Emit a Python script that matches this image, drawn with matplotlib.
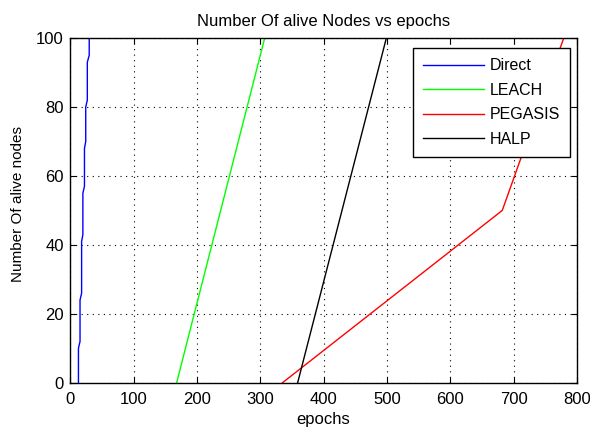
import matplotlib
matplotlib.use("Agg")
import matplotlib.pyplot as plt

# alive nodes vs epochs
direct_x = [13, 13, 15.5, 15.5, 18, 18, 20, 20, 22.5, 22.5, 24.5, 24.5, 27, 27, 30, 30]
direct_y = [0, 10, 12, 24, 26, 41, 43, 55, 57, 68, 70, 80, 82, 93, 95, 100]
leach_x = [168, 307]
leach_y = [0, 100]
pegasis_x = [335, 682, 779]
pegasis_y = [0, 50, 100]
halp_x = [359, 499]
halp_y = [0, 100]

plt.rcParams['font.family'] = ['Liberation Sans', 'DejaVu Sans']

fig = plt.figure(figsize=(5.9, 4.33), dpi=100)
ax = fig.add_axes([0.119, 0.116, 0.859, 0.796])

ax.plot(direct_x, direct_y, color='#0000ff', lw=1, label='Direct')
ax.plot(leach_x, leach_y, color='#00ff00', lw=1, label='LEACH')
ax.plot(pegasis_x, pegasis_y, color='#ff0000', lw=1, label='PEGASIS')
ax.plot(halp_x, halp_y, color='black', lw=1, label='HALP')

ax.set_xlim(0, 800)
ax.set_ylim(0, 100)
ax.set_xticks(range(0, 801, 100))
ax.set_yticks(range(0, 101, 20))
ax.grid(True, linestyle=(0, (1, 4)), color='black', lw=0.8)
ax.tick_params(direction='in', labelsize=12, length=4, top=True, right=True)
ax.tick_params(axis='x', pad=6.5)
ax.tick_params(axis='y', pad=4.5)
for s in ax.spines.values():
    s.set_linewidth(1)

ax.set_title('Number Of alive Nodes vs epochs', fontsize=12, pad=9)
ax.set_xlabel('epochs', fontsize=12, labelpad=4)
ax.set_ylabel('Number Of alive nodes', fontsize=11)
ax.yaxis.set_label_coords(-0.09, 0.52)

leg = ax.legend(loc='upper right', bbox_to_anchor=(0.987, 0.972), fontsize=11.5,
                fancybox=False, framealpha=1, edgecolor='black',
                handlelength=3.8, handletextpad=0.35, borderpad=0.65,
                labelspacing=0.6, borderaxespad=0)
leg.get_frame().set_linewidth(1)

fig.savefig('out.png', dpi=100)
